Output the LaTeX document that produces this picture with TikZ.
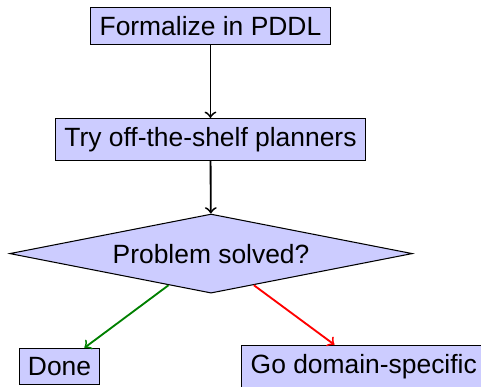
\documentclass[tikz,border=0pt]{standalone}
\usepackage{fontspec}
\setmainfont{Liberation Sans}
\usepackage{xcolor}
\usetikzlibrary{shapes.geometric}

\tikzset{
  stepbox/.style={draw, fill=blue!20},
  choice/.style={draw, fill=blue!20, diamond, aspect=5.09, minimum width=5.35cm, minimum height=1.05cm},
  flow/.style={->, line width=0.7pt}
}

\begin{document}
\begin{tikzpicture}
\clip (0,0) rectangle (6.4,-5.136);
\useasboundingbox (0,0) rectangle (6.4,-5.136);

\node[stepbox] (formalize) at (2.80,-0.346) {Formalize in PDDL};
\node[stepbox] (planners) at (2.80,-1.857) {Try off-the-shelf planners};
\node[choice] (solved) at (2.808,-3.374) {Problem solved?};

\node[stepbox] (done) at (0.792,-4.875) {Done};
\node[stepbox] (specific) at (4.84,-4.875) {Go domain-specific};

\draw [flow] (formalize) -- (planners);
\draw [flow] (planners) -- (solved);
\draw [flow, green!50!black] (solved) -- (done);
\draw [flow, red] (solved) -- (specific);
\end{tikzpicture}
\end{document}
